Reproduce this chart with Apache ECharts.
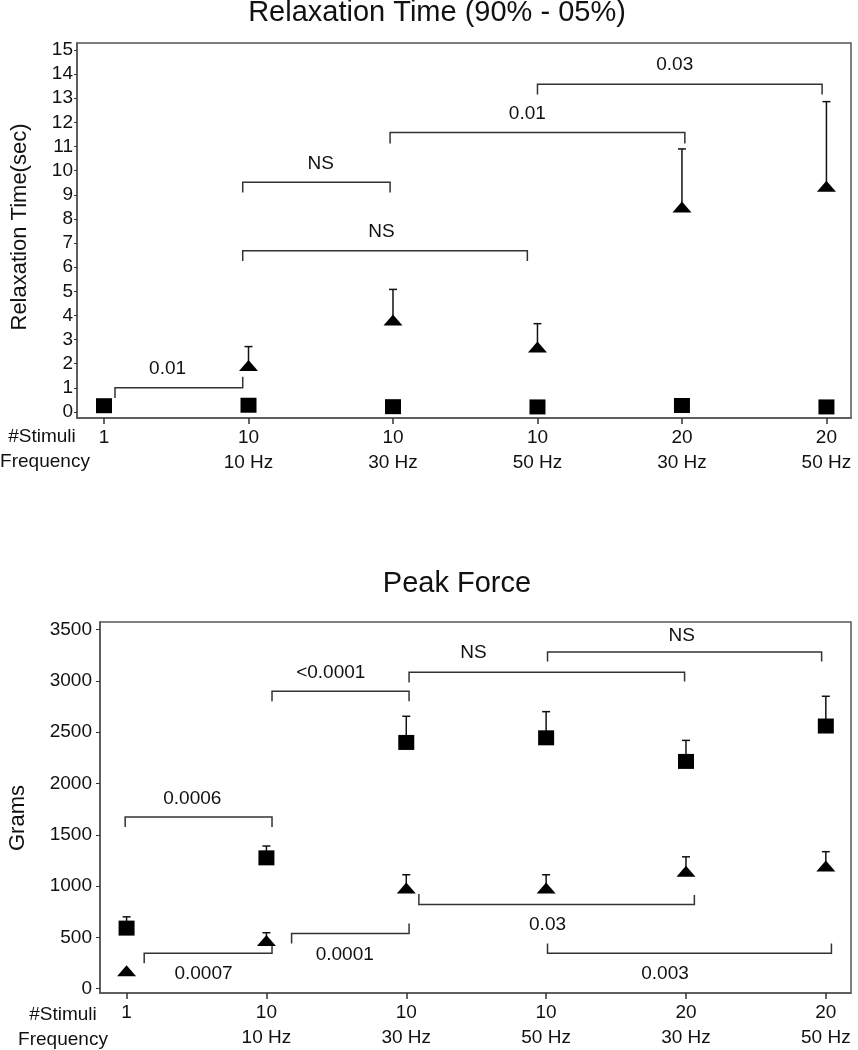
<!DOCTYPE html>
<html>
<head>
<meta charset="utf-8">
<script src="https://cdn.jsdelivr.net/npm/echarts@6/dist/echarts.min.js"></script>
<style>
html,body{margin:0;padding:0;background:#fff;}
#chart{width:858px;height:1050px;}
</style>
</head>
<body>
<div id="chart"></div>
<script>
// ---------- data ----------
const stimuli = ['1', '10', '10', '10', '20', '20'];
const frequencies = ['', '10 Hz', '30 Hz', '50 Hz', '30 Hz', '50 Hz'];

const relaxTicks = [0,1,2,3,4,5,6,7,8,9,10,11,12,13,14,15];
const relaxSquare = [0.26, 0.28, 0.22, 0.21, 0.27, 0.21];
const relaxTriangle = [null, 1.93, 3.81, 2.69, 8.49, 9.35];
const relaxTriangleErrTop = [null, 2.71, 5.08, 3.66, 10.9, 12.86];
// [x1, x2, yBar, yLeftEnd, yRightEnd]
const relaxBrackets = [
  [0.076, 0.96, 1.0, 0.58, 1.46],
  [0.96, 2.93, 6.68, 6.26, 6.26],
  [0.96, 1.98, 9.52, 9.09, 9.09],
  [1.98, 4.02, 11.58, 11.13, 11.13],
  [3.0, 4.97, 13.58, 13.16, 13.16]
];
const relaxBracketText = ['0.01', 'NS', 'NS', '0.01', '0.03'];
const relaxBracketTextPos = [[0.44, 1.78], [1.92, 7.47], [1.50, 10.3], [2.93, 12.34], [3.95, 14.38]];

const forceTicks = [0, 500, 1000, 1500, 2000, 2500, 3000, 3500];
const forceSquare = [590, 1275, 2400, 2445, 2215, 2560];
const forceSquareErrTop = [700, 1390, 2655, 2700, 2420, 2850];
const forceTriangle = [175, 470, 980, 980, 1145, 1195];
const forceTriangleErrTop = [null, 545, 1110, 1110, 1285, 1335];
const forceBrackets = [
  [-0.01, 1.04, 1674, 1575, 1575],
  [1.04, 2.02, 2898, 2801, 2801],
  [2.02, 3.99, 3085, 2985, 2995],
  [3.01, 4.97, 3281, 3188, 3188],
  [0.126, 1.04, 344, 247, 440],
  [1.18, 2.02, 537, 440, 634],
  [2.09, 4.06, 819, 923, 914],
  [3.01, 5.04, 344, 440, 440]
];
const forceBracketText = ['0.0006', '<0.0001', 'NS', 'NS', '0.0007', '0.0001', '0.03', '0.003'];
const forceBracketTextPos = [[0.47, 1851], [1.46, 3075], [2.48, 3275], [3.97, 3435], [0.55, 145], [1.56, 334], [3.01, 624], [3.85, 145]];

// ---------- helpers ----------
const FONT = '"Liberation Sans", Arial, sans-serif';
const idx = [0,1,2,3,4,5];
function pts(vals) { return idx.map(i => vals[i] == null ? null : [i, vals[i]]).filter(Boolean); }
function errData(vals, tops) { return idx.filter(i => vals[i] != null && tops[i] != null).map(i => [i, vals[i], tops[i]]); }

function errorSeries(gi, data) {
  return {
    type: 'custom', xAxisIndex: gi, yAxisIndex: gi, z: 2, silent: true,
    data: data, encode: { x: 0, y: [1, 2] },
    renderItem: function (params, api) {
      const a = api.coord([api.value(0), api.value(1)]);
      const b = api.coord([api.value(0), api.value(2)]);
      return { type: 'group', children: [
        { type: 'line', shape: { x1: a[0], y1: a[1], x2: b[0], y2: b[1] }, style: { stroke: '#111', lineWidth: 1.5 } },
        { type: 'line', shape: { x1: b[0] - 4, y1: b[1], x2: b[0] + 4, y2: b[1] }, style: { stroke: '#111', lineWidth: 1.5 } }
      ]};
    }
  };
}
function bracketSeries(gi, brackets, texts, textPos) {
  return {
    type: 'custom', xAxisIndex: gi, yAxisIndex: gi, z: 1, silent: true,
    data: brackets, encode: { x: [0, 1], y: [2, 3, 4] },
    renderItem: function (params, api) {
      const i = params.dataIndex;
      const x1 = api.value(0), x2 = api.value(1), y = api.value(2), yl = api.value(3), yr = api.value(4);
      const p = [api.coord([x1, yl]), api.coord([x1, y]), api.coord([x2, y]), api.coord([x2, yr])];
      const t = api.coord(textPos[i]);
      return { type: 'group', children: [
        { type: 'polyline', shape: { points: p }, style: { stroke: '#333', lineWidth: 1.5, fill: null } },
        { type: 'text', x: t[0], y: t[1], style: { text: texts[i], fill: '#111', font: '19px ' + FONT, textAlign: 'center', textVerticalAlign: 'middle' } }
      ]};
    }
  };
}
function xAxis(gi, min, max) {
  return {
    type: 'value', gridIndex: gi, min: min, max: max,
    axisLine: { show: true, onZero: false, lineStyle: { color: '#555', width: 1.5 } },
    axisTick: { show: true, length: 6, customValues: idx, lineStyle: { color: '#333', width: 1.5 } },
    axisLabel: { customValues: idx, margin: 7, fontSize: 19, lineHeight: 25, color: '#111', fontFamily: FONT,
      formatter: v => { const i = Math.round(v); return frequencies[i] ? stimuli[i] + '\n' + frequencies[i] : stimuli[i]; } },
    splitLine: { show: false }
  };
}
function yAxis(gi, min, max, ticks, margin, tickLen) {
  return {
    type: 'value', gridIndex: gi, min: min, max: max,
    axisLine: { show: true, onZero: false, lineStyle: { color: '#555', width: 1.5 } },
    axisTick: { show: true, length: tickLen, customValues: ticks, lineStyle: { color: '#333', width: 1 } },
    axisLabel: { customValues: ticks, margin: margin, fontSize: 19, color: '#111', fontFamily: FONT,
      formatter: v => String(Math.round(v)) },
    splitLine: { show: false }
  };
}
function markers(gi, sq, tri) {
  const s = [];
  s.push({ type: 'scatter', xAxisIndex: gi, yAxisIndex: gi, z: 3, symbol: 'rect', symbolSize: [16, 15],
    itemStyle: { color: '#000', opacity: 1 }, data: pts(sq) });
  s.push({ type: 'scatter', xAxisIndex: gi, yAxisIndex: gi, z: 3, symbol: 'triangle', symbolSize: [19, 11],
    itemStyle: { color: '#000', opacity: 1 }, data: pts(tri) });
  return s;
}

const chart = echarts.init(document.getElementById('chart'), null, { renderer: 'canvas' });
const option = {
  backgroundColor: '#fff',
  animation: false,
  grid: [
    { left: 77, right: 7, top: 43, height: 375, show: true, borderColor: '#555', borderWidth: 1.5, backgroundColor: 'transparent' },
    { left: 100, right: 7, top: 622, height: 375, show: true, borderColor: '#555', borderWidth: 1.5, backgroundColor: 'transparent' }
  ],
  xAxis: [xAxis(0, -0.187, 5.17), xAxis(1, -0.19, 5.18)],
  yAxis: [yAxis(0, -0.249, 15.29, relaxTicks, 4, 3), yAxis(1, -42.5, 3574, forceTicks, 8, 4)],
  graphic: [
    { type: 'text', x: 437, y: 13, style: { text: 'Relaxation Time (90% - 05%)', font: '29px ' + FONT, fill: '#111', textAlign: 'center', textVerticalAlign: 'middle' } },
    { type: 'text', x: 457, y: 584, style: { text: 'Peak Force', font: '29px ' + FONT, fill: '#111', textAlign: 'center', textVerticalAlign: 'middle' } },
    { type: 'text', x: 20, y: 227, rotation: Math.PI / 2, style: { text: 'Relaxation Time(sec)', font: '22px ' + FONT, fill: '#111', textAlign: 'center', textVerticalAlign: 'middle' } },
    { type: 'text', x: 18, y: 818, rotation: Math.PI / 2, style: { text: 'Grams', font: '22px ' + FONT, fill: '#111', textAlign: 'center', textVerticalAlign: 'middle' } },
    { type: 'text', x: 42, y: 437, style: { text: '#Stimuli', font: '19px ' + FONT, fill: '#111', textAlign: 'center', textVerticalAlign: 'middle' } },
    { type: 'text', x: 45, y: 462, style: { text: 'Frequency', font: '19px ' + FONT, fill: '#111', textAlign: 'center', textVerticalAlign: 'middle' } },
    { type: 'text', x: 63, y: 1015, style: { text: '#Stimuli', font: '19px ' + FONT, fill: '#111', textAlign: 'center', textVerticalAlign: 'middle' } },
    { type: 'text', x: 63, y: 1040, style: { text: 'Frequency', font: '19px ' + FONT, fill: '#111', textAlign: 'center', textVerticalAlign: 'middle' } }
  ],
  series: [
    bracketSeries(0, relaxBrackets, relaxBracketText, relaxBracketTextPos),
    errorSeries(0, errData(relaxTriangle, relaxTriangleErrTop)),
    ...markers(0, relaxSquare, relaxTriangle),
    bracketSeries(1, forceBrackets, forceBracketText, forceBracketTextPos),
    errorSeries(1, errData(forceSquare, forceSquareErrTop)),
    errorSeries(1, errData(forceTriangle, forceTriangleErrTop)),
    ...markers(1, forceSquare, forceTriangle)
  ]
};
chart.setOption(option);
</script>
</body>
</html>
